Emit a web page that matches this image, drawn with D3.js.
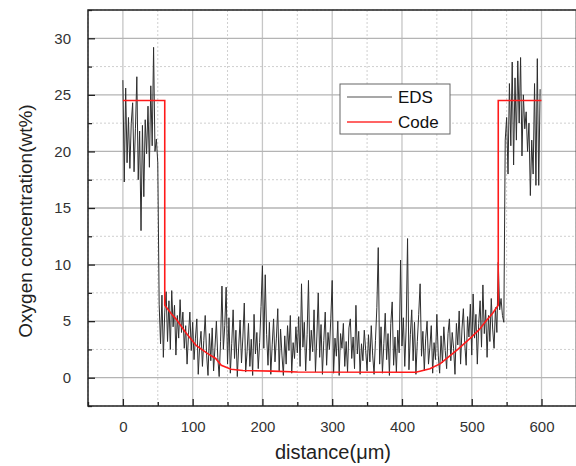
<!DOCTYPE html>
<html>
<head>
<meta charset="utf-8">
<script src="https://cdn.jsdelivr.net/npm/d3@7"></script>
<style>
  body { margin: 0; background: #fff; }
  text { font-family: "Liberation Sans", Arial, sans-serif; }
</style>
</head>
<body>
<div id="wrapper"></div>
<script>
// EDS line scan, sampled every 2 µm from 0 to 598 µm
const edsValues = [
  26.3, 17.3, 25.6, 19.0, 23.0, 18.5, 22.5, 24.3, 18.2, 22.0, 26.6, 17.5, 21.8, 13.0, 22.3, 16.0, 22.8, 19.8, 24.0, 18.6, 25.8, 20.5, 29.2, 20.0, 21.1, 19.0,
  6.5, 3.0, 7.3, 1.8, 5.8, 7.6, 3.2, 6.8, 2.5, 7.7, 4.5, 6.4, 2.0, 5.5, 3.5, 6.9, 4.0, 5.8, 2.6, 4.6, 1.2, 3.8, 5.8, 2.4,
  4.9, 1.6, 3.5, 5.2, 0.3, 2.8, 4.1, 1.0, 3.3, 5.5, 2.0, 0.2, 3.9, 1.5, 4.4, 0.6, 2.7, 5.0, 1.8, 0.1, 3.2, 8.1, 2.5, 4.6, 8.0,
  1.2, 5.3, 0.4, 3.0, 6.0, 1.7, 4.2, 0.1, 2.8, 5.1, 1.3, 3.6, 6.6, 0.5, 2.3, 4.8, 1.0, 3.4, 0.2, 5.6, 2.1, 4.0, 0.8, 3.1, 6.3,
  9.9, 2.6, 9.1, 3.8, 1.1, 4.9, 0.3, 2.9, 5.2, 1.4, 3.5, 6.1, 0.6, 4.3, 2.0, 0.2, 3.7, 1.2, 4.6, 2.4, 5.5, 0.4, 3.1, 1.7, 4.5,
  2.2, 5.4, 1.0, 8.3, 2.7, 4.9, 0.6, 3.8, 8.6, 1.5, 4.2, 2.3, 6.0, 0.5, 3.6, 7.5, 1.8, 4.7, 0.3, 3.3, 5.8, 1.1, 4.0, 2.5, 5.2,
  8.6, 0.4, 3.5, 1.9, 5.0, 0.2, 3.9, 2.6, 4.8, 1.0, 3.2, 0.5, 4.4, 5.2, 1.7, 3.6, 0.8, 6.4, 2.1, 4.1, 0.3, 3.0, 1.5, 4.2, 2.4,
  0.6, 3.8, 1.4, 4.6, 2.0, 0.3, 3.3, 6.2, 11.5, 1.2, 4.5, 0.4, 3.0, 5.7, 1.6, 3.9, 0.2, 4.8, 6.7, 1.1, 3.6, 0.5, 4.2, 2.2, 10.4,
  2.8, 5.3, 1.0, 4.4, 12.3, 0.7, 3.8, 6.0, 1.5, 4.9, 0.3, 3.2, 5.6, 8.3, 1.9, 4.1, 0.6, 3.5, 5.0, 1.2, 2.7, 4.6, 0.4, 3.1, 1.6,
  5.6, 2.0, 0.4, 3.7, 1.3, 4.5, 2.4, 0.8, 3.9, 5.2, 1.5, 4.0, 2.6, 0.3, 4.8, 2.9, 5.9, 1.2, 4.3, 6.1, 3.0, 1.1, 5.4, 3.6, 6.5,
  2.0, 7.4, 3.5, 5.6, 1.2, 4.8, 6.8, 2.7, 8.2, 3.9, 6.0, 1.8, 5.5, 3.2, 7.0, 4.3, 2.6, 6.2, 4.0,
  10.2, 6.0, 7.0, 5.5, 4.9, 21.0, 23.0, 18.0, 26.0, 20.5, 27.9, 18.8, 26.5, 21.0, 28.0, 22.5, 28.3, 19.6, 25.0, 22.0, 23.5, 20.0, 22.5, 16.1, 21.0, 18.0, 26.0, 17.0, 28.2, 17.0, 25.5
];
const edsDistance = d3.range(0, 600, 2);

// Code (model) profile
const codeDistance = [0, 60, 60, 70, 76, 90, 105, 120, 133, 141, 155, 172, 214, 250, 420, 440, 455, 462, 480, 498, 510, 521, 530, 538, 538, 600];
const codeValues   = [24.5, 24.5, 6.4, 5.6, 5.2, 4.0, 2.85, 2.2, 1.7, 1.1, 0.75, 0.64, 0.58, 0.5, 0.48, 0.8, 1.24, 1.6, 2.5, 3.5, 4.2, 5.06, 5.7, 6.4, 24.5, 24.5];

const xTicks = [0, 100, 200, 300, 400, 500, 600];
const xMinorTicks = [-50, 50, 150, 250, 350, 450, 550, 650];
const yTicks = [0, 5, 10, 15, 20, 25, 30];
const yMinorTicks = [-2.5, 2.5, 7.5, 12.5, 17.5, 22.5, 27.5, 32.5];

const seriesNames = ["EDS", "Code"];
const xTitle = "distance(\u03bcm)";
const yTitle = "Oxygen concentration(wt%)";

const eds = edsDistance.map((d, i) => ({ x: d, y: edsValues[i] }));
const code = codeDistance.map((d, i) => ({ x: d, y: codeValues[i] }));

let dimensions = {
  width: 576,
  height: 466,
  margins: { top: 10, left: 88 }
};
dimensions.boundedWidth = 488.4;
dimensions.boundedHeight = 396;

const svg = d3.select("#wrapper")
  .append("svg")
  .attr("width", dimensions.width)
  .attr("height", dimensions.height);

const bounds = svg.append("g")
  .attr("transform", `translate(${dimensions.margins.left},${dimensions.margins.top})`);

const xScale = d3.scaleLinear().domain([-50, 650]).range([0, dimensions.boundedWidth]);
const yScale = d3.scaleLinear().domain([-2.5, 32.5]).range([dimensions.boundedHeight, 0]);

svg.append("defs").append("clipPath").attr("id", "clip")
  .append("rect").attr("width", dimensions.boundedWidth).attr("height", dimensions.boundedHeight);

// minor grid (dotted)
bounds.append("g").selectAll("line").data(xMinorTicks).join("line")
  .attr("x1", d => xScale(d)).attr("x2", d => xScale(d))
  .attr("y1", 0).attr("y2", dimensions.boundedHeight)
  .attr("stroke", "#cfcfcf").attr("stroke-dasharray", "2,2");
bounds.append("g").selectAll("line").data(yMinorTicks).join("line")
  .attr("y1", d => yScale(d)).attr("y2", d => yScale(d))
  .attr("x1", 0).attr("x2", dimensions.boundedWidth)
  .attr("stroke", "#cfcfcf").attr("stroke-dasharray", "2,2");

// major grid (solid)
bounds.append("g").selectAll("line").data(xTicks).join("line")
  .attr("x1", d => xScale(d)).attr("x2", d => xScale(d))
  .attr("y1", 0).attr("y2", dimensions.boundedHeight)
  .attr("stroke", "#c6c6c6").attr("stroke-width", 1.3);
bounds.append("g").selectAll("line").data(yTicks).join("line")
  .attr("y1", d => yScale(d)).attr("y2", d => yScale(d))
  .attr("x1", 0).attr("x2", dimensions.boundedWidth)
  .attr("stroke", "#b4b4b4").attr("stroke-width", 1.3);

const lineGen = d3.line().x(d => xScale(d.x)).y(d => yScale(d.y));

const plot = bounds.append("g").attr("clip-path", "url(#clip)");
plot.append("path")
  .attr("d", lineGen(eds))
  .attr("fill", "none")
  .attr("stroke", "#2e2e2e")
  .attr("stroke-width", 1);

plot.append("path")
  .attr("d", lineGen(code))
  .attr("fill", "none")
  .attr("stroke", "#ff1a1a")
  .attr("stroke-width", 1.6);

// axes with inward ticks
const xAxis = bounds.append("g")
  .attr("transform", `translate(0,${dimensions.boundedHeight})`)
  .call(d3.axisBottom(xScale).tickValues(xTicks).tickSize(-7).tickPadding(15).tickFormat(d3.format("d")));
bounds.append("g")
  .attr("transform", `translate(0,${dimensions.boundedHeight})`)
  .call(d3.axisBottom(xScale).tickValues(xMinorTicks).tickSize(-4).tickFormat(""));

const yAxis = bounds.append("g")
  .call(d3.axisLeft(yScale).tickValues(yTicks).tickSize(-7).tickPadding(17).tickFormat(d3.format("d")));
bounds.append("g")
  .call(d3.axisLeft(yScale).tickValues(yMinorTicks).tickSize(-4).tickFormat(""));

bounds.selectAll(".domain").remove();
bounds.selectAll(".tick line").attr("stroke", "#222").attr("stroke-width", 1.3);
bounds.selectAll(".tick text")
  .attr("fill", "#333")
  .style("font-size", "15px")
  .style("font-family", "'Liberation Sans', Arial, sans-serif");

// frame
bounds.append("rect")
  .attr("width", dimensions.boundedWidth)
  .attr("height", dimensions.boundedHeight)
  .attr("fill", "none")
  .attr("stroke", "#222")
  .attr("stroke-width", 1.5);

// axis titles
svg.append("text")
  .attr("x", 333).attr("y", 459)
  .attr("text-anchor", "middle")
  .attr("fill", "#222")
  .style("font-size", "20px")
  .text(xTitle);

svg.append("text")
  .attr("transform", `translate(32,221) rotate(-90)`)
  .attr("text-anchor", "middle")
  .attr("fill", "#222")
  .style("font-size", "19px")
  .text(yTitle);

// legend
const legend = svg.append("g").attr("transform", "translate(340,84)");
legend.append("rect")
  .attr("width", 110).attr("height", 50)
  .attr("fill", "#fff").attr("stroke", "#666").attr("stroke-width", 1);
const legendColors = ["#8a8a8a", "#ff3030"];
seriesNames.forEach((name, i) => {
  const y = 13 + i * 25;
  legend.append("line")
    .attr("x1", 7).attr("x2", 52).attr("y1", y).attr("y2", y)
    .attr("stroke", legendColors[i]).attr("stroke-width", 1.5);
  legend.append("text")
    .attr("x", 58).attr("y", y + 6)
    .attr("fill", "#111")
    .style("font-size", "17px")
    .text(name);
});
</script>
</body>
</html>
